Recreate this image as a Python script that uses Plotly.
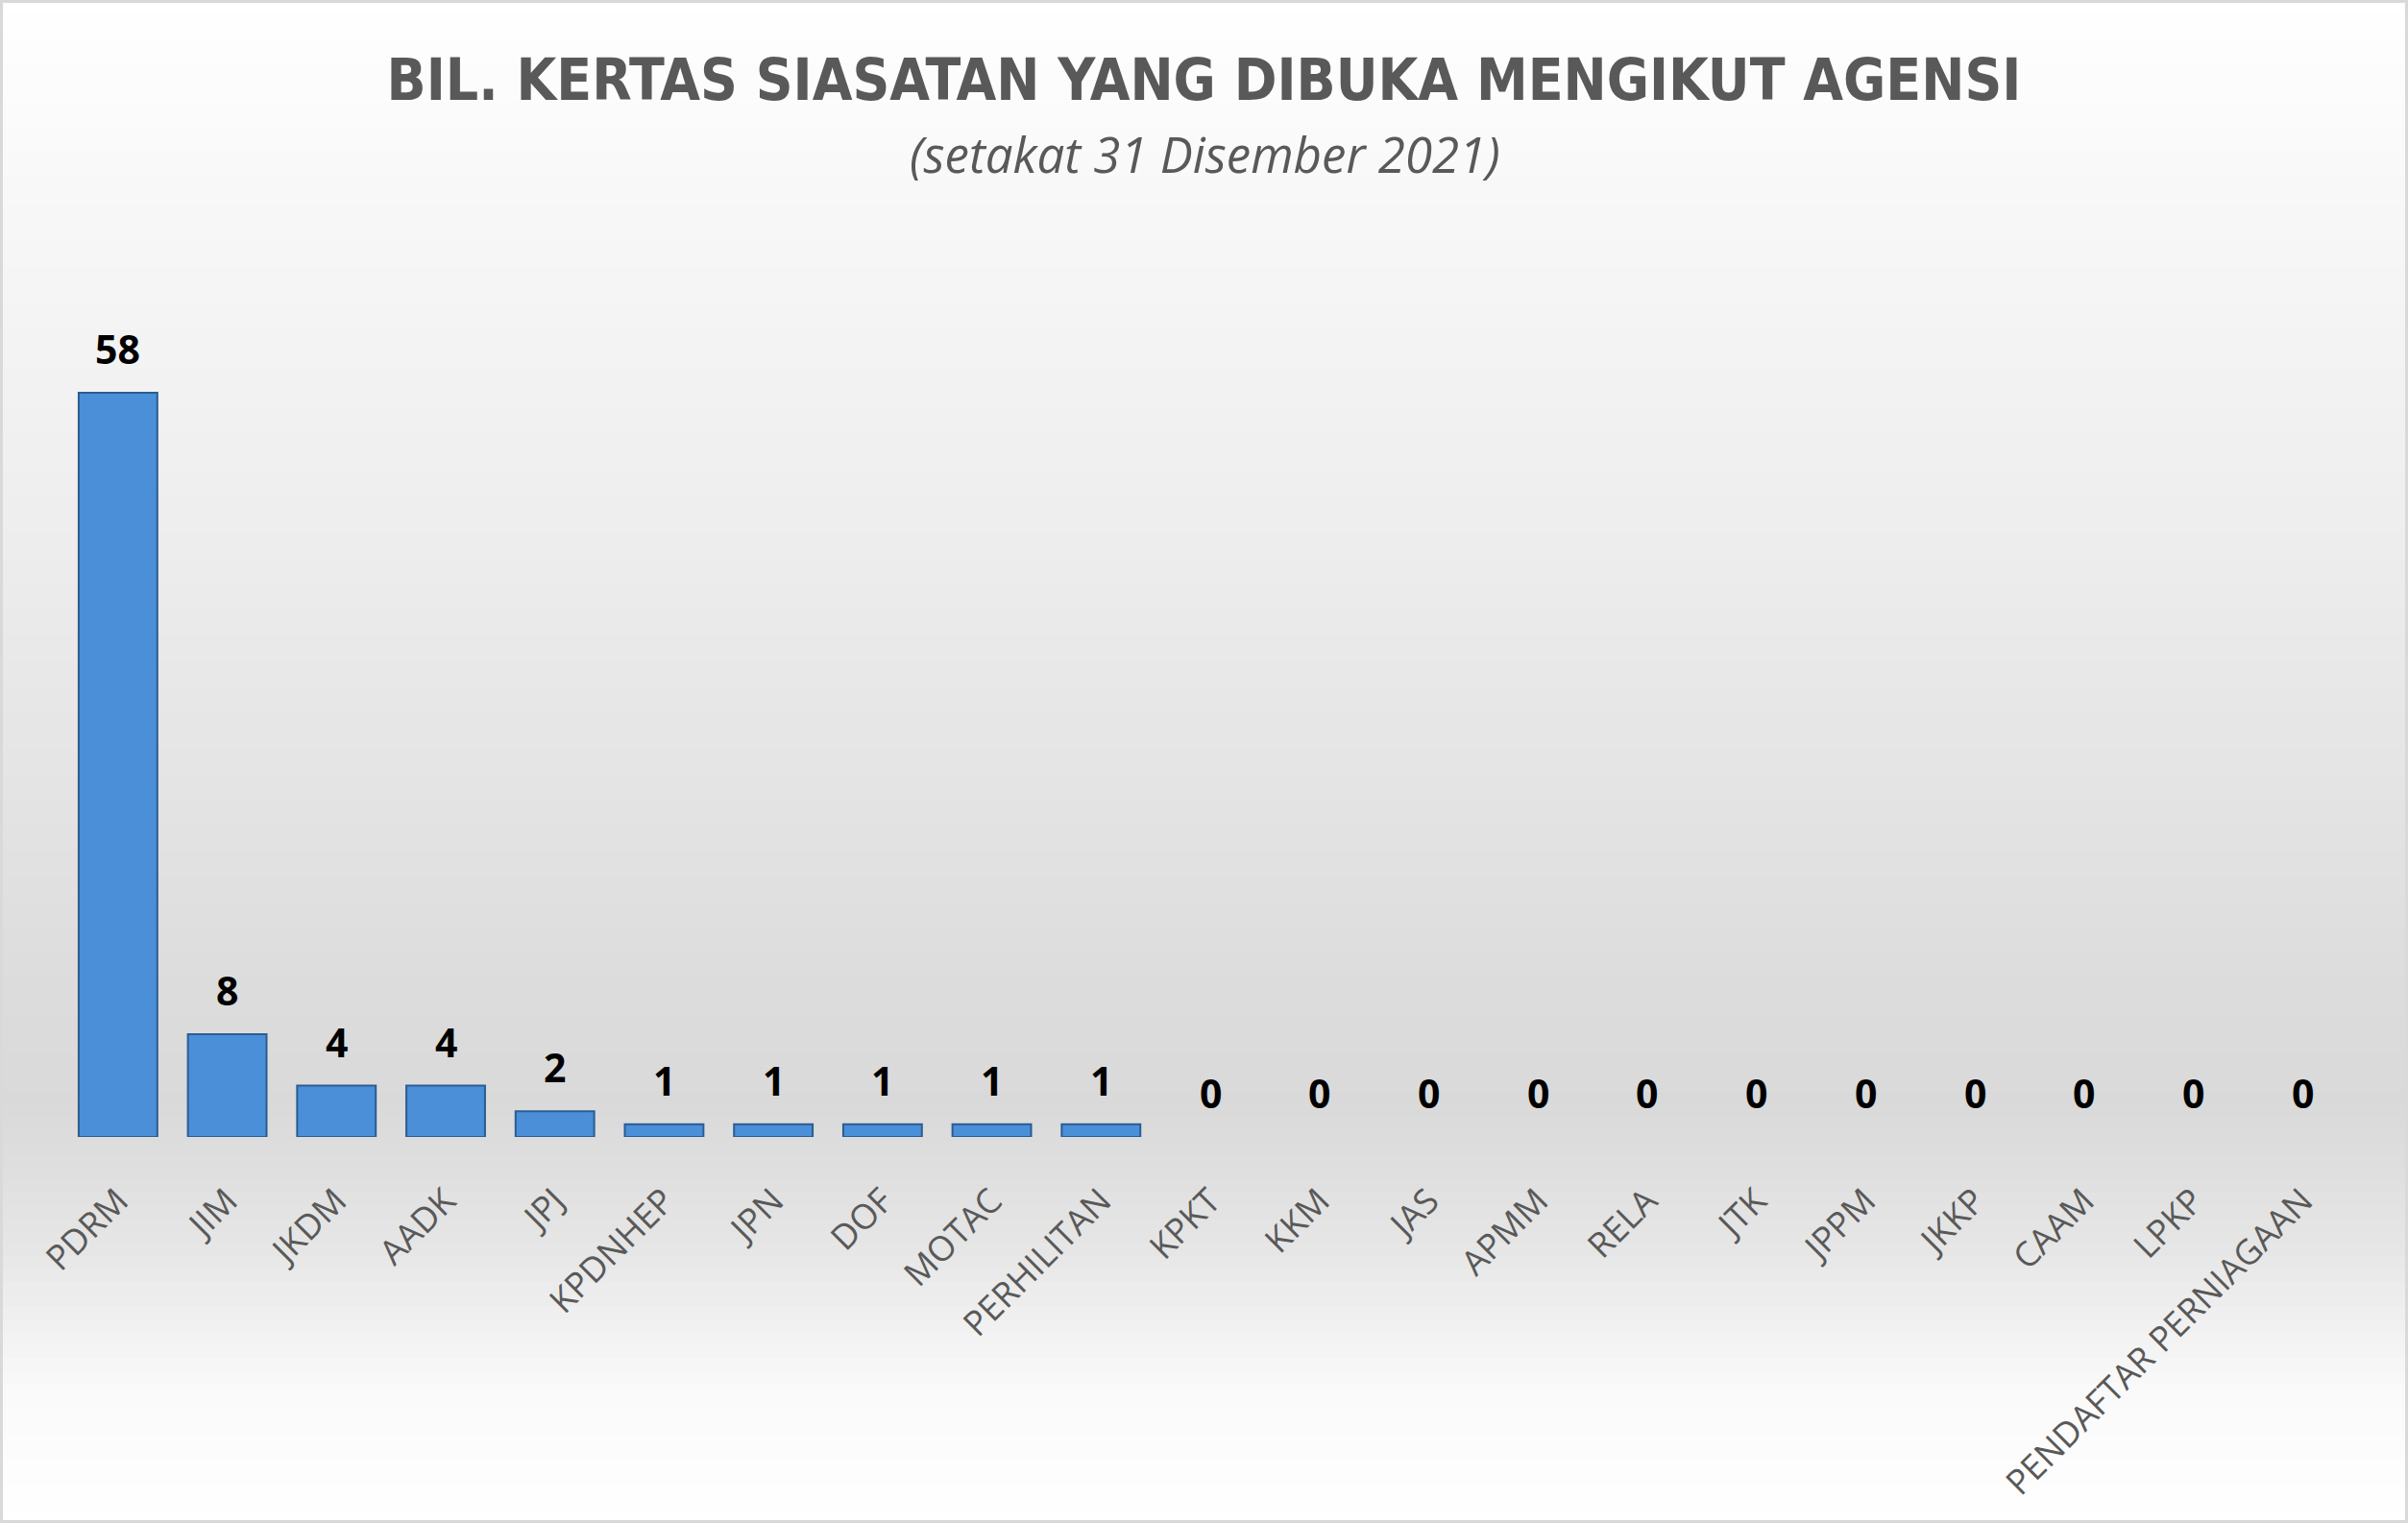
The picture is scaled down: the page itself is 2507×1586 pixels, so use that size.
import plotly.graph_objects as go
import numpy as np

categories = ["PDRM", "JIM", "JKDM", "AADK", "JPJ", "KPDNHEP", "JPN", "DOF", "MOTAC",
              "PERHILITAN", "KPKT", "KKM", "JAS", "APMM", "RELA", "JTK", "JPPM", "JKKP",
              "CAAM", "LPKP", "PENDAFTAR PERNIAGAAN"]
values = [58, 8, 4, 4, 2, 1, 1, 1, 1, 1, 0, 0, 0, 0, 0, 0, 0, 0, 0, 0, 0]

title_text = "BIL. KERTAS SIASATAN YANG DIBUKA MENGIKUT AGENSI"
subtitle_text = "(setakat 31 Disember 2021)"

W, H = 2507, 1586
L, R = 66, 2454
T, B = 302, 1184

def px_to_paper_x(px):
    return (px - L) / (R - L)

def px_to_paper_y(py):
    return (B - py) / (B - T)

# background gradient stops (pixel y, grey level)
stops_y = [0, 200, 600, 1000, 1150, 1300, 1450, 1586]
stops_g = [255, 248, 236, 221, 217, 230, 250, 255]

shapes = []
nb = 120
edges = np.linspace(0, H, nb + 1)
for i in range(nb):
    y0, y1 = edges[i], edges[i + 1]
    g = int(round(np.interp((y0 + y1) / 2, stops_y, stops_g)))
    col = f"rgb({g},{g},{g})"
    shapes.append(dict(type="rect", xref="paper", yref="paper",
                       x0=px_to_paper_x(0), x1=px_to_paper_x(W),
                       y0=px_to_paper_y(y1 + 0.5), y1=px_to_paper_y(y0),
                       fillcolor=col, line=dict(width=0), layer="below"))
# outer border
shapes.append(dict(type="rect", xref="paper", yref="paper",
                   x0=px_to_paper_x(1.5), x1=px_to_paper_x(W - 1.5),
                   y0=px_to_paper_y(H - 1.5), y1=px_to_paper_y(1.5),
                   line=dict(color="#d9d9d9", width=3), layer="above"))

line_widths = [2 if v > 0 else 0 for v in values]

fig = go.Figure()
fig.add_trace(go.Bar(
    x=categories, y=values,
    marker=dict(color="#4a8fd8", line=dict(color="#2b5c92", width=line_widths)),
    width=0.72,
    hoverinfo="x+y",
))

annotations = []
for c, v in zip(categories, values):
    annotations.append(dict(x=c, y=v, xref="x", yref="y", text=str(v),
                            showarrow=False, yanchor="bottom", yshift=16,
                            font=dict(family="Open Sans", size=41, color="#000000",
                                      weight="bold")))
annotations.append(dict(x=px_to_paper_x(1254), y=px_to_paper_y(160), xref="paper", yref="paper",
                        text=f"<i>{subtitle_text}</i>", showarrow=False,
                        xanchor="center", yanchor="middle",
                        font=dict(family="Open Sans", size=51, color="#595959")))

fig.update_layout(
    width=W, height=H,
    margin=dict(l=L, r=W - R, t=T, b=H - B, pad=0),
    paper_bgcolor="#ffffff",
    plot_bgcolor="rgba(0,0,0,0)",
    title=dict(text=f"<b>{title_text}</b>", x=0.5, xanchor="center",
               y=1 - 83 / H, yanchor="middle",
               font=dict(family="Liberation Sans Narrow, DejaVu Sans Condensed, sans-serif",
                         size=60, color="#595959")),
    xaxis=dict(tickangle=-45, tickfont=dict(family="Open Sans", size=36, color="#595959"),
               showgrid=False, zeroline=False, showline=False,
               ticks="outside", ticklen=30, tickcolor="rgba(0,0,0,0)"),
    yaxis=dict(range=[0, 66], visible=False, showgrid=False, zeroline=False),
    showlegend=False,
    shapes=shapes,
    annotations=annotations,
    bargap=0.28,
)

fig.write_html("out.html")
